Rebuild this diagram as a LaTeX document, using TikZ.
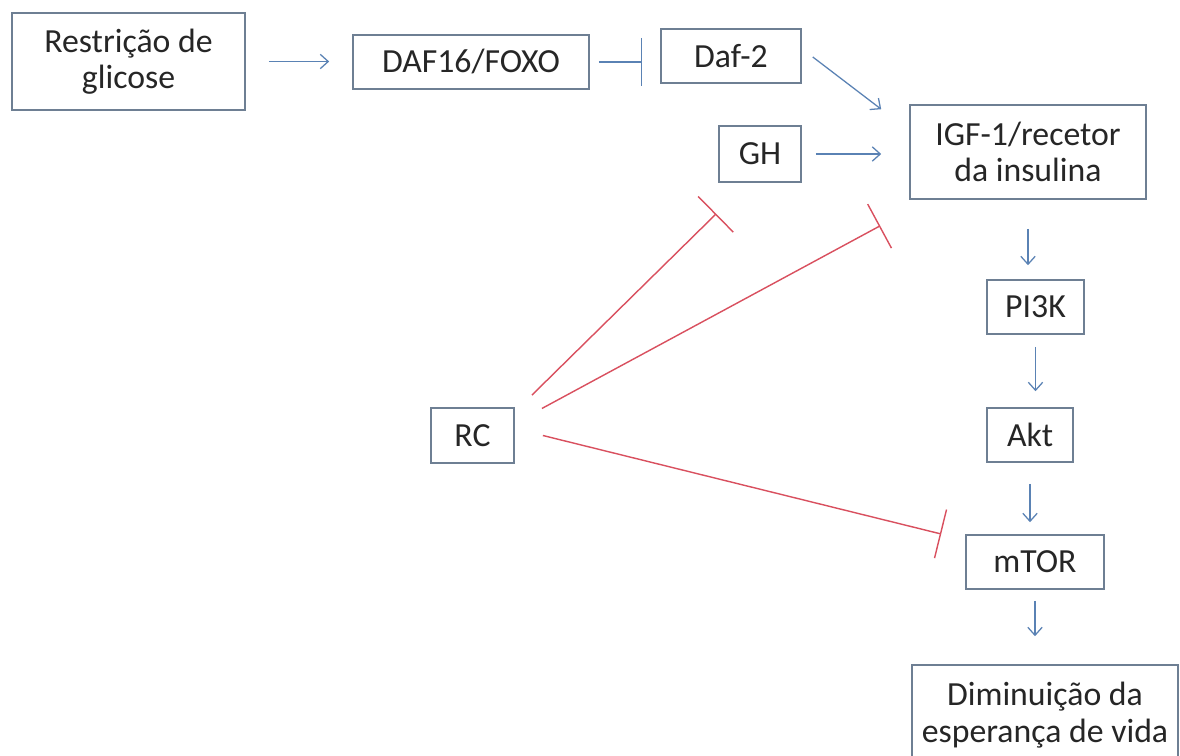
\documentclass[tikz,border=0pt]{standalone}
\usepackage{fontspec}
\setmainfont{Carlito}
\usetikzlibrary{calc,positioning,arrows.meta}
\definecolor{boxline}{HTML}{6E7F93}
\definecolor{actblue}{HTML}{5A82B4}
\definecolor{inhred}{HTML}{D9505F}
\definecolor{txt}{HTML}{262626}

\begin{document}
\begin{tikzpicture}[x=0.025cm,y=-0.025cm,
	box/.style={draw=boxline,line width=1.1pt,text=txt,align=center,inner sep=0pt,
		font=\fontsize{24pt}{26pt}\selectfont},
	act/.style={actblue,line width=0.9pt,-{Straight Barb[length=2mm,width=3.6mm]}},
	blk/.style={actblue,line width=0.9pt,-{Bar[width=12mm]}},
	inh/.style={inhred,line width=1pt,-{Bar[width=12.5mm]}}]

    \fill[white](0,0) rectangle (1180,756);
    \useasboundingbox (0,0) rectangle (1180,756);
    \clip (0,0) rectangle (1180,756);

    % upper row
    \node[box,minimum width=5.83cm,minimum height=2.43cm] (restr) at (128.5,61.5) {Restrição de\\glicose};
    \node[box,minimum width=5.9cm,minimum height=1.35cm] (daf16) at (471,62) {DAF16/FOXO};
    \node[box,minimum width=3.5cm,minimum height=1.35cm] (daf2) at (731,56) {Daf-2};
    \node[box,minimum width=2.05cm,minimum height=1.4cm] (gh) at (760,154) {GH};

    % main chain
    \node[box,minimum width=5.9cm,minimum height=2.35cm] (igf) at (1028,152) {IGF-1/recetor\\da insulina};
    \node[box,minimum width=2.43cm,minimum height=1.35cm] (pi3k) at (1035.5,307) {PI3K};
    \node[box,minimum width=2.15cm,minimum height=1.35cm] (akt) at (1030,435) {Akt};
    \node[box,minimum width=3.45cm,minimum height=1.35cm] (mtor) at (1035,562) {mTOR};
    \node[box,minimum width=6.65cm,minimum height=2.5cm] (dim) at (1045,715) {Diminuição da\\esperança de vida};

    \node[box,minimum width=2.08cm,minimum height=1.38cm] (rc) at (472.5,435.5) {RC};

    % activation
    \draw[act,shorten <=0.575cm,shorten >=0.575cm] (restr.east) -- (restr.east -| daf16.west);
    \draw[blk,shorten <=0.225cm,shorten >=0.45cm] (daf16.east) -- (daf16.east -| daf2.west);
    \draw[act] ($(daf2.east)+(11,1)$) -- ($(igf.north west)+(-28,5)$);
    \draw[act,shorten <=0.35cm,shorten >=0.7cm] (gh.east) -- (gh.east -| igf.west);
    \draw[act,shorten <=0.725cm,shorten >=0.35cm] (igf.south) -- (igf.south |- pi3k.north);
    \draw[act,shorten <=0.3cm,shorten >=0.4cm] (pi3k.south) -- (pi3k.south |- akt.north);
    \draw[act,shorten <=0.525cm,shorten >=0.3cm] (akt.south) -- (akt.south |- mtor.north);
    \draw[act,shorten <=0.275cm,shorten >=0.7cm] (mtor.south) -- (mtor.south |- dim.north);

    % inhibition
    \draw[inh] ($(rc.north east)+(17,-12)$) -- ($(gh.south west)+(-2,31)$);
    \draw[inh] ($(rc.east)+(27,-27)$) -- ($(igf.south west)+(-29,26)$);
    \draw[inh] ($(rc.east)+(28,0)$) -- ($(mtor.west)+(-24,-28)$);
\end{tikzpicture}
\end{document}
